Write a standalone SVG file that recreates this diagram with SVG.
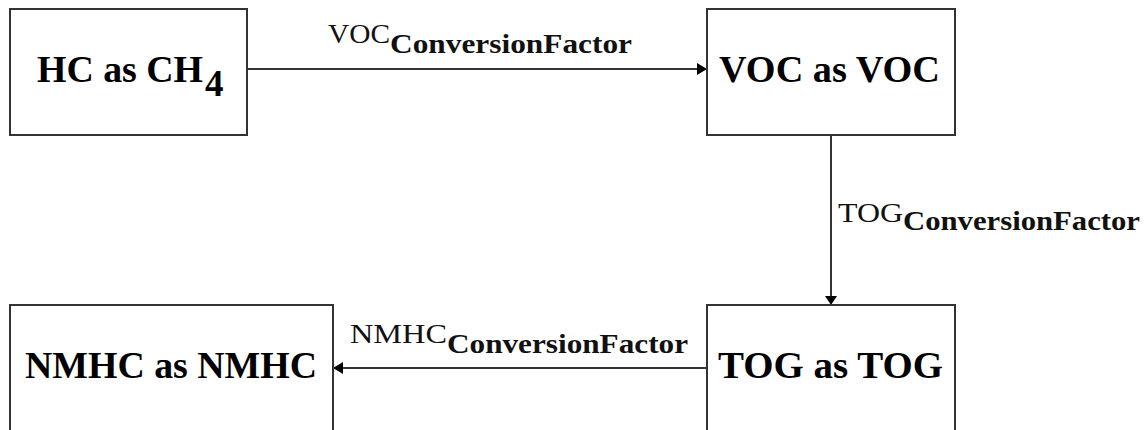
<svg xmlns="http://www.w3.org/2000/svg" width="1147" height="430" viewBox="0 0 1147 430">
<style>
.box{fill:#fff;stroke:#333;stroke-width:2}
.node{font-family:"Liberation Serif","Times New Roman",serif;font-weight:bold;font-size:37px;fill:#000}
.lbl{font-family:"Liberation Serif","Times New Roman",serif;font-size:28px;fill:#111}
.sub{font-family:"Liberation Serif","Times New Roman",serif;font-size:28px;font-weight:bold;fill:#111}
.edge{stroke:#333;stroke-width:2;fill:none}
.head{fill:#000}
</style>
<rect width="1147" height="430" fill="#fff"/>
<g id="connectors">
  <g id="e1">
    <line class="edge" x1="247" y1="69" x2="698" y2="69"/>
    <polygon class="head" points="697,63 707,69 697,75"/>
    <text class="lbl" x="328" y="43" textLength="62" lengthAdjust="spacingAndGlyphs">VOC</text>
    <text class="sub" x="390" y="53" textLength="242" lengthAdjust="spacingAndGlyphs">ConversionFactor</text>
  </g>
  <g id="e2">
    <line class="edge" x1="831" y1="135" x2="831" y2="297"/>
    <polygon class="head" points="825,296 837,296 831,305"/>
    <text class="lbl" x="838" y="222" textLength="65" lengthAdjust="spacingAndGlyphs">TOG</text>
    <text class="sub" x="903" y="230" textLength="237" lengthAdjust="spacingAndGlyphs">ConversionFactor</text>
  </g>
  <g id="e3">
    <line class="edge" x1="707" y1="368" x2="342" y2="368"/>
    <polygon class="head" points="343,362 333,368 343,374"/>
    <text class="lbl" x="350" y="343" textLength="97" lengthAdjust="spacingAndGlyphs">NMHC</text>
    <text class="sub" x="447" y="353" textLength="241" lengthAdjust="spacingAndGlyphs">ConversionFactor</text>
  </g>
</g>
<g id="hc">
  <rect class="box" x="10" y="9" width="237" height="126"/>
  <text class="node" x="37" y="82" textLength="166" lengthAdjust="spacingAndGlyphs">HC as CH</text>
  <text class="node" x="205" y="96">4</text>
</g>
<g id="voc">
  <rect class="box" x="707" y="9" width="248" height="126"/>
  <text class="node" x="719" y="82" textLength="221" lengthAdjust="spacingAndGlyphs">VOC as VOC</text>
</g>
<g id="tog">
  <rect class="box" x="707" y="305" width="248" height="150"/>
  <text class="node" x="718" y="378" textLength="225" lengthAdjust="spacingAndGlyphs">TOG as TOG</text>
</g>
<g id="nmhc">
  <rect class="box" x="10" y="305" width="323" height="150"/>
  <text class="node" x="25" y="378" textLength="292" lengthAdjust="spacingAndGlyphs">NMHC as NMHC</text>
</g>
</svg>
